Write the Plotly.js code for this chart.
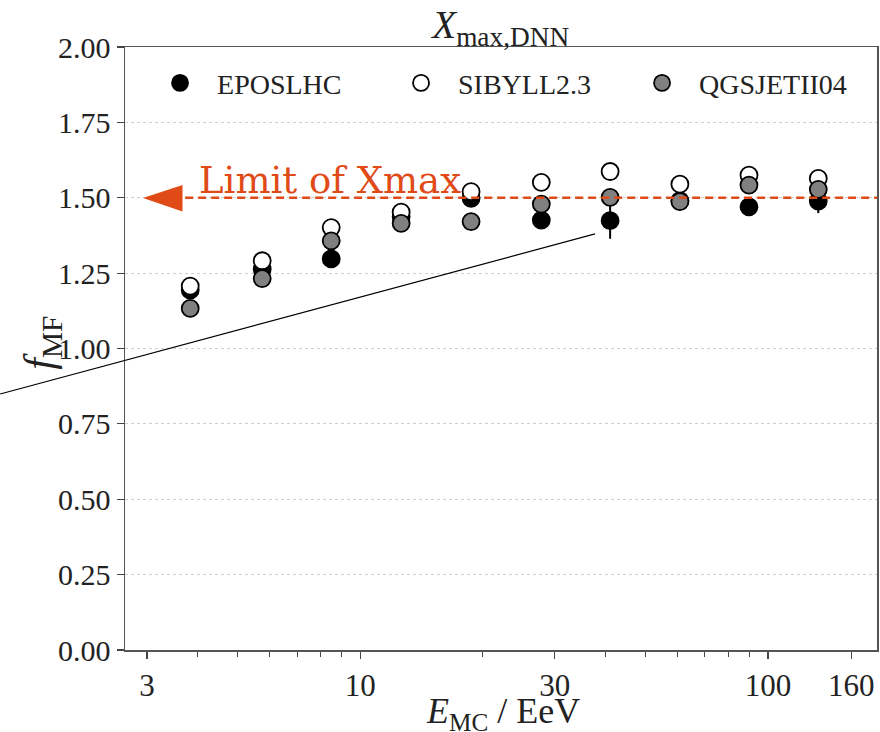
<!DOCTYPE html>
<html>
<head>
<meta charset="utf-8">
<script src="https://cdn.plot.ly/plotly-3.0.1.min.js"></script>
<style>html,body{margin:0;padding:0;background:#fff}#chart{width:880px;height:732px}</style>
</head>
<body>
<div id="chart"></div>
<script>
// Energy bin centres (EeV)
const energy = [3.83, 5.75, 8.49, 12.6, 18.7, 27.8, 41.0, 60.8, 89.8, 132.8];
// f_MF values per hadronic interaction model
const eposlhc   = [1.194, 1.263, 1.297, 1.437, 1.498, 1.426, 1.424, 1.490, 1.470, 1.489];
const eposErr   = [0.02, 0.02, 0.015, 0.015, 0.02, 0.015, 0.06, 0.015, 0.03, 0.04];
const sibyll23  = [1.207, 1.291, 1.401, 1.452, 1.520, 1.551, 1.587, 1.545, 1.575, 1.564];
const qgsjet04  = [1.133, 1.232, 1.357, 1.415, 1.421, 1.479, 1.501, 1.487, 1.542, 1.528];
const seriesNames = ['EPOSLHC', 'SIBYLL2.3', 'QGSJETII04'];
const xTickVals = [3, 10, 30, 100, 160];
const xTickText = ['3', '10', '30', '100', '160'];
const xMinorVals = [4, 5, 6, 7, 8, 9, 20, 40, 50, 60, 70, 80, 90];
const yTickVals = [0, 0.25, 0.5, 0.75, 1.0, 1.25, 1.5, 1.75, 2.0];
const yRange = [0, 2];
const limitValue = 1.5;
const limitLabel = 'Limit of Xmax';
const yTitle = '<i>f</i><sub>MF</sub>';
const xTitle = '<i>E</i><sub>MC</sub> / EeV';

const serif = 'Liberation Serif, DejaVu Serif, serif';
const orange = '#e04a17';
const limitPaperY = (limitValue - yRange[0]) / (yRange[1] - yRange[0]);

const mk = (fill) => ({size: 17, color: fill, line: {color: '#000', width: 1.8}});

const traces = [
  {x: energy, y: eposlhc, name: seriesNames[0], type: 'scatter', mode: 'markers',
   marker: mk('#000'),
   error_y: {type: 'data', array: eposErr, visible: true, color: '#000', thickness: 2, width: 0}},
  {x: energy, y: sibyll23, name: seriesNames[1], type: 'scatter', mode: 'markers',
   marker: mk('#fff')},
  {x: energy, y: qgsjet04, name: seriesNames[2], type: 'scatter', mode: 'markers',
   marker: mk('#808080')}
];

const layout = {
  width: 880, height: 732,
  margin: {l: 125, r: 3, t: 47, b: 82},
  paper_bgcolor: '#fff', plot_bgcolor: '#fff',
  font: {family: serif, color: '#222'},
  title: {text: '<i>X</i><sub>max,DNN</sub>', font: {family: serif, size: 39, color: '#222'},
          x: 0.569, xanchor: 'center', y: 0.967, yanchor: 'middle'},
  xaxis: {
    type: 'log', range: [Math.log10(2.65), Math.log10(185)],
    tickmode: 'array', tickvals: xTickVals, ticktext: xTickText,
    ticks: 'outside', ticklen: 7, tickwidth: 1.2, tickcolor: '#444',
    minor: {tickmode: 'array', tickvals: xMinorVals, ticks: 'outside', ticklen: 5, tickwidth: 1, tickcolor: '#444', showgrid: false},
    showgrid: false, zeroline: false,
    showline: true, mirror: true, linecolor: '#555', linewidth: 1.5,
    tickfont: {family: serif, size: 31, color: '#222'}
  },
  yaxis: {
    range: yRange, tickmode: 'array', tickvals: yTickVals, tickformat: '.2f',
    ticks: 'outside', ticklen: 7, tickwidth: 1.2, tickcolor: '#444',
    showgrid: true, gridcolor: '#cfcfcf', griddash: 'dot', gridwidth: 1,
    zeroline: false,
    showline: true, mirror: true, linecolor: '#555', linewidth: 1.5,
    tickfont: {family: serif, size: 30, color: '#222'}
  },
  legend: {
    orientation: 'h', x: 0.024, xanchor: 'left', y: 0.94, yanchor: 'middle',
    font: {family: serif, size: 28, color: '#222'},
    itemwidth: 64, entrywidth: 162, entrywidthmode: 'pixels',
    bgcolor: 'rgba(0,0,0,0)', traceorder: 'normal'
  },
  showlegend: true,
  shapes: [
    {type: 'line', xref: 'paper', yref: 'paper', x0: 0.08, x1: 1, y0: limitPaperY, y1: limitPaperY,
     line: {color: orange, width: 2.5, dash: '8px,5px'}},
    {type: 'path', xref: 'paper', yref: 'paper',
     path: 'M 0.0239 0.7496 L 0.0765 0.7711 L 0.0765 0.7272 Z',
     fillcolor: orange, line: {color: orange, width: 0}},
    {type: 'line', xref: 'paper', yref: 'paper', x0: -0.166, y0: 0.4245, x1: 0.625, y1: 0.69,
     line: {color: '#000', width: 1.2}}
  ],
  annotations: [
    {text: limitLabel, xref: 'paper', yref: 'paper', x: 0.0957, y: 0.779,
     xanchor: 'left', yanchor: 'middle', showarrow: false,
     font: {family: 'DejaVu Serif, serif', size: 37, color: orange}},
    {text: yTitle, xref: 'paper', yref: 'paper', x: -0.11, y: 0.51,
     xanchor: 'center', yanchor: 'middle', textangle: -90, showarrow: false,
     font: {family: serif, size: 42, color: '#222'}},
    {text: xTitle, xref: 'paper', yref: 'paper', x: 0.503, y: -0.064,
     xanchor: 'center', yanchor: 'top', showarrow: false,
     font: {family: serif, size: 36, color: '#222'}}
  ]
};

Plotly.newPlot('chart', traces, layout, {displayModeBar: false, staticPlot: true});
</script>
</body>
</html>
